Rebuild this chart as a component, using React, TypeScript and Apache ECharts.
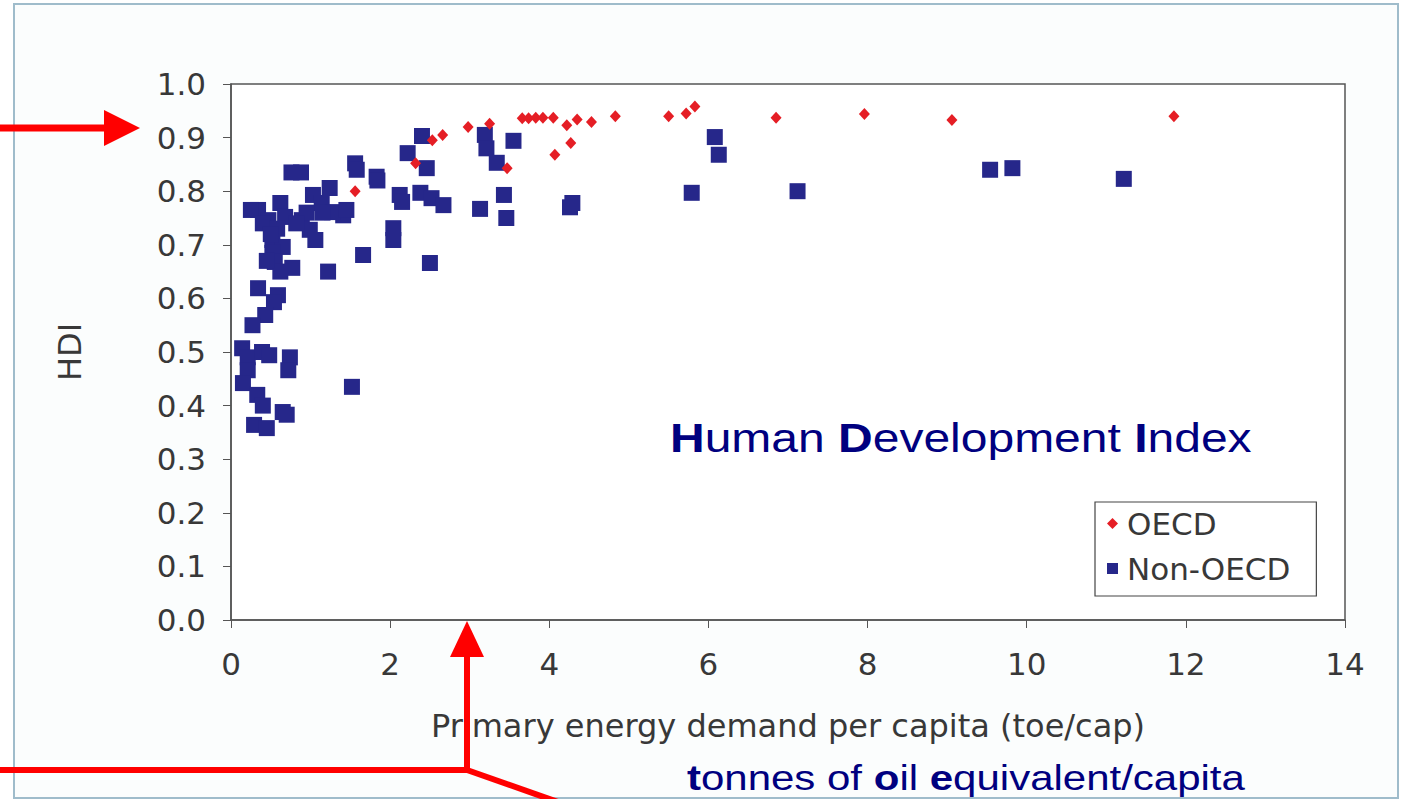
import React, { useEffect, useRef } from "react";
import * as echarts from "echarts";

const xTicks = [0, 2, 4, 6, 8, 10, 12, 14];
const yTicks = [0, 0.1, 0.2, 0.3, 0.4, 0.5, 0.6, 0.7, 0.8, 0.9, 1.0];

const oecd: [number, number][] = [
  [1.56, 0.8], [2.32, 0.852], [2.53, 0.895], [2.66, 0.905], [2.98, 0.92],
  [3.25, 0.926], [3.47, 0.843], [3.66, 0.936], [3.74, 0.936], [3.83, 0.937],
  [3.92, 0.937], [4.05, 0.937], [4.07, 0.868], [4.22, 0.923], [4.27, 0.89],
  [4.35, 0.934], [4.53, 0.929], [4.83, 0.94], [5.5, 0.94], [5.72, 0.945],
  [5.83, 0.958], [6.85, 0.937], [7.96, 0.944], [9.06, 0.933], [11.85, 0.94],
];

const nonOecd: [number, number][] = [
  [0.14, 0.507], [0.21, 0.49], [0.39, 0.5], [0.48, 0.494], [0.74, 0.49],
  [0.72, 0.466], [0.21, 0.466], [0.15, 0.442], [0.33, 0.42], [0.4, 0.4],
  [0.65, 0.388], [0.7, 0.383], [0.29, 0.364], [0.45, 0.358], [1.52, 0.435],
  [0.34, 0.619], [0.59, 0.606], [0.54, 0.593], [0.43, 0.569], [0.27, 0.55],
  [0.76, 0.835], [0.88, 0.835], [0.34, 0.765], [0.25, 0.765], [0.62, 0.778],
  [0.47, 0.746], [0.68, 0.752], [1.03, 0.793], [1.24, 0.806], [1.14, 0.778],
  [1.41, 0.755], [1.27, 0.761], [0.89, 0.746], [0.99, 0.728], [1.06, 0.709],
  [0.52, 0.709], [0.65, 0.696], [0.52, 0.685], [0.55, 0.668], [0.77, 0.657],
  [0.62, 0.65], [1.22, 0.65], [1.66, 0.681], [0.4, 0.74], [0.58, 0.73],
  [1.15, 0.76], [0.95, 0.76], [0.82, 0.74], [0.45, 0.67], [0.5, 0.72],
  [1.56, 0.852], [1.58, 0.84], [1.83, 0.827], [1.84, 0.82], [1.45, 0.765],
  [2.04, 0.731], [2.04, 0.709], [2.12, 0.793], [2.15, 0.78], [2.22, 0.871],
  [2.4, 0.903], [2.46, 0.843], [2.38, 0.797], [2.52, 0.787], [2.67, 0.774],
  [2.5, 0.666], [3.13, 0.767], [3.19, 0.905], [3.21, 0.88], [3.34, 0.853],
  [3.55, 0.894], [3.43, 0.793], [3.46, 0.75], [4.29, 0.778], [4.26, 0.77],
  [5.79, 0.797], [6.08, 0.901], [6.13, 0.868], [7.12, 0.8], [9.54, 0.84],
  [9.82, 0.843], [11.22, 0.823],
];

const seriesNames = ["OECD", "Non-OECD"];
const xTitle = "Primary energy demand per capita (toe/cap)";
const yTitle = "HDI";

export default function App() {
  const ref = useRef<HTMLDivElement>(null);
  useEffect(() => {
    if (!ref.current) return;
    const chart = echarts.init(ref.current, null, { renderer: "svg" });
    const axisFont = "DejaVu Sans";
    const red = "#ff0000";
    chart.setOption({
      animation: false,
      grid: {
        left: 231, top: 84, right: 64, bottom: 179,
        show: true, backgroundColor: "#ffffff", borderColor: "#555555", borderWidth: 1.5,
      },
      legend: {
        data: seriesNames,
        orient: "vertical",
        left: 1095, top: 502,
        backgroundColor: "#ffffff",
        borderColor: "#444444", borderWidth: 1.2, borderRadius: 0,
        padding: [6, 26, 12, 12],
        itemWidth: 11, itemHeight: 11, itemGap: 14,
        textStyle: { fontFamily: axisFont, fontSize: 31, color: "#383838", padding: [0, 0, 0, 4] },
      },
      xAxis: {
        type: "value", min: xTicks[0], max: xTicks[xTicks.length - 1], interval: 2,
        name: xTitle, nameLocation: "middle", nameGap: 90,
        nameTextStyle: { fontFamily: axisFont, fontSize: 32, color: "#383838" },
        axisLine: { show: true, lineStyle: { color: "#555555", width: 1.5 } },
        axisTick: { show: true, length: 8, lineStyle: { color: "#555555" } },
        splitLine: { show: false },
        axisLabel: { fontFamily: axisFont, fontSize: 31, color: "#383838", margin: 28 },
      },
      yAxis: {
        type: "value", min: yTicks[0], max: yTicks[yTicks.length - 1], interval: 0.1,
        name: yTitle, nameLocation: "middle", nameGap: 145, nameRotate: 90,
        nameTextStyle: { fontFamily: axisFont, fontSize: 32, color: "#383838" },
        axisLine: { show: true, lineStyle: { color: "#555555", width: 1.5 } },
        axisTick: { show: true, length: 8, lineStyle: { color: "#555555" } },
        splitLine: { show: false },
        axisLabel: {
          fontFamily: axisFont, fontSize: 31, color: "#383838", margin: 25,
          formatter: (v: number) => v.toFixed(1),
        },
      },
      series: [
        {
          name: "Non-OECD", type: "scatter", data: nonOecd, symbol: "rect", symbolSize: 16,
          itemStyle: { color: "#26278a", opacity: 1 }, z: 2,
        },
        {
          name: "OECD", type: "scatter", data: oecd, symbol: "diamond", symbolSize: [11, 12],
          itemStyle: { color: "#e51e25", opacity: 1 }, z: 3,
        },
      ],
      graphic: [
        {
          type: "rect", z: -10, silent: true,
          shape: { x: 14, y: 4, width: 1384, height: 794 },
          style: { fill: "#fbfdfd", stroke: "#9fbccb", lineWidth: 2 },
        },
        {
          type: "text", left: 670, top: 418, z: 50, scaleX: 1.2,
          style: {
            text: "{b|H}uman {b|D}evelopment {b|I}ndex",
            font: "40px 'Liberation Sans'",
            fill: "#00007f",
            rich: {
              b: { fontWeight: "bold", fontSize: 40, fontFamily: "Liberation Sans", fill: "#00007f" },
            },
          },
        },
        {
          type: "text", left: 687, top: 760, z: 50, scaleX: 1.2,
          style: {
            text: "{b|t}onnes of {b|o}il {b|e}quivalent/capita",
            font: "35px 'Liberation Sans'",
            fill: "#00007f",
            rich: {
              b: { fontWeight: "bold", fontSize: 35, fontFamily: "Liberation Sans", fill: "#00007f" },
            },
          },
        },
        {
          type: "line", z: 100, silent: true,
          shape: { x1: 0, y1: 128, x2: 110, y2: 128 },
          style: { stroke: red, lineWidth: 7 },
        },
        {
          type: "polygon", z: 100, silent: true,
          shape: { points: [[104, 110], [140, 128], [104, 146]] },
          style: { fill: red },
        },
        {
          type: "polyline", z: 100, silent: true,
          shape: { points: [[0, 770], [467, 770], [467, 650]] },
          style: { stroke: red, lineWidth: 6, fill: "none" },
        },
        {
          type: "line", z: 100, silent: true,
          shape: { x1: 467, y1: 770, x2: 558, y2: 802 },
          style: { stroke: red, lineWidth: 6 },
        },
        {
          type: "polygon", z: 100, silent: true,
          shape: { points: [[450, 657], [467, 621], [484, 657]] },
          style: { fill: red },
        },
      ],
    });
    return () => chart.dispose();
  }, []);
  return (
    <div
      ref={ref}
      style={{ position: "absolute", left: 0, top: 0, width: 1409, height: 799 }}
    />
  );
}
